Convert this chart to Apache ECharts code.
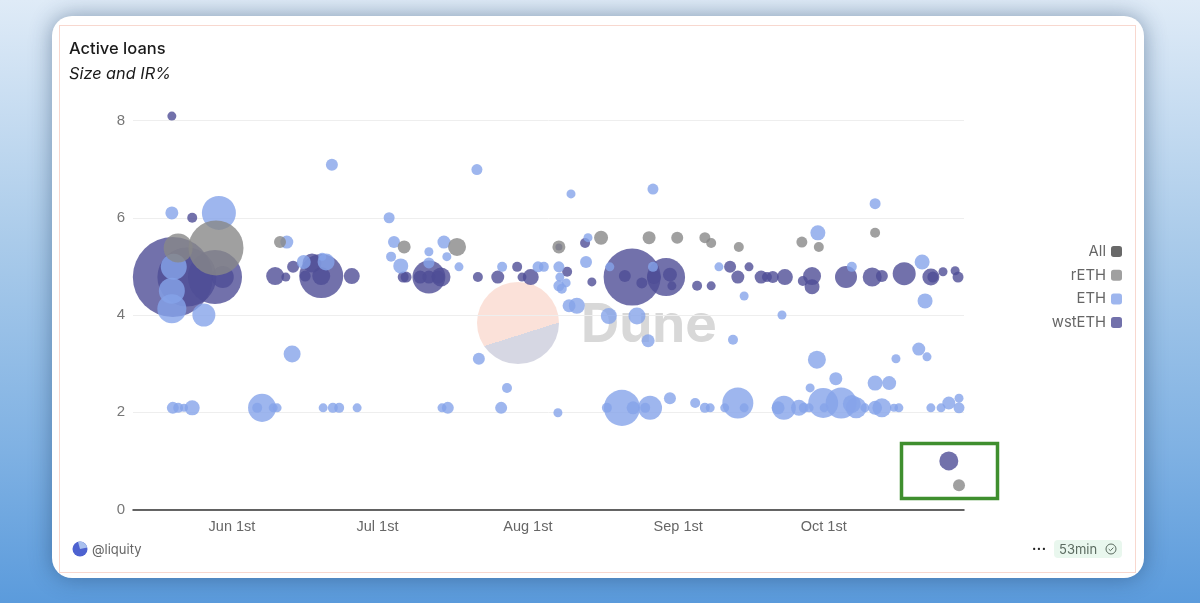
<!DOCTYPE html>
<html>
<head>
<meta charset="utf-8">
<style>
html, body { margin: 0; width: 1200px; height: 603px; overflow: hidden; font-family: Inter, sans-serif; }
body { background: linear-gradient(180deg, #dfebf7 0%, #aacbea 40%, #7fb1e3 75%, #5b9bdc 100%); position: relative; }
#card { position: absolute; left: 52px; top: 16px; width: 1092px; height: 562px; background: #fff; border-radius: 20px; box-shadow: 0 0 22px rgba(25, 55, 95, 0.45); }
#frame { position: absolute; left: 59px; top: 25px; width: 1075px; height: 546px; border: 1px solid #f8d8cf; }
#chart { position: absolute; left: 0; top: 0; width: 1200px; height: 603px; }
.foot { position: absolute; color: #666; font-size: 13px; line-height: 18px; }
#logo { position: absolute; left: 72px; top: 541px; }
#badge { left: 1054px; top: 540px; width: 68px; height: 18px; background: #e9f7ee; border-radius: 4px; padding-left: 5px; box-sizing: border-box; font-size: 13px; color: #5b6b60; }
#badge svg { position: absolute; right: 5px; top: 3px; }
</style>
</head>
<body>
<div id="card"></div>
<div id="frame"></div>
<div id="chart"></div>
<svg id="logo" width="16" height="16" viewBox="0 0 16 16"><circle cx="8" cy="8" r="7.5" fill="#4d62d0"/><path d="M8 8 L6 .8 A7.5 7.5 0 0 1 15.3 6.5 Z" fill="#a9c0ee"/></svg>
<div class="foot" style="left:92px;top:540px;">@liquity</div>
<div class="foot" style="left:1032px;top:539px;color:#222;font-weight:700;letter-spacing:0.5px;">···</div>
<div class="foot" id="badge">53min<svg width="12" height="12" viewBox="0 0 12 12"><circle cx="6" cy="6" r="5" fill="none" stroke="#5b6b60"/><path d="M3.7 6 L5.4 7.7 L8.4 4.6" fill="none" stroke="#5b6b60"/></svg></div>
<script src="https://cdn.jsdelivr.net/npm/echarts@6/dist/echarts.min.js"></script>
<script>
// x values are days counted from Jun 1st, y values are the interest rate in %
// sizes are loan sizes in relative units
const wstDays = [-12.2, -9.3, -3.5, -1.9, -8.2, -12.4, 8.9, 11.1, 12.6, 18.4, 15.1, 18.4, 16.5, 24.7, 35.3, 35.9, 40.6, 38.8, 40.6, 42.5, 43.1, 50.7, 54.8, 58.8, 59.8, 61.6, 69.1, 67.4, 72.8, 74.2, 82.5, 89.5, 81.0, 84.5, 87.0, 90.3, 90.7, 102.7, 106.6, 104.3, 95.9, 98.8, 109.1, 110.3, 111.5, 114, 119.6, 117.7, 119.6, 126.6, 132, 134, 138.6, 144.1, 144.5, 146.6, 149.1, 149.7, 147.8];
const wstRates = [4.78, 4.78, 4.78, 4.78, 6.0, 8.09, 4.8, 4.78, 4.99, 4.8, 4.8, 4.8, 5.07, 4.8, 4.78, 4.78, 4.78, 4.78, 4.78, 4.78, 4.78, 4.78, 4.78, 4.99, 4.78, 4.78, 4.89, 5.4, 5.48, 4.68, 4.78, 4.78, 4.8, 4.66, 4.78, 4.83, 4.6, 4.99, 4.99, 4.78, 4.6, 4.6, 4.78, 4.78, 4.78, 4.78, 4.8, 4.7, 4.58, 4.78, 4.78, 4.8, 4.85, 4.78, 4.78, 4.89, 4.91, 4.78, 1.0];
const wstSizes = [62.4, 33.6, 28.1, 4.41, 0.81, 0.64, 2.89, 0.64, 1.21, 18.5, 1, 2.89, 3.24, 2.25, 1, 1, 10.2, 1.44, 1.44, 1.44, 3.24, 0.81, 1.44, 0.81, 0.64, 2.25, 0.81, 0.36, 0.81, 0.64, 31.4, 13.7, 1.21, 1, 1.69, 1.69, 0.64, 1.21, 0.64, 1.44, 0.81, 0.64, 1.44, 0.81, 1.21, 2.25, 2.89, 0.81, 1.96, 4.41, 3.24, 1.21, 4.84, 2.56, 1, 0.64, 0.64, 1, 3.24];

const rethDays = [-11.1, -3.3, 9.9, 35.5, 46.4, 67.4, 76.1, 86, 91.8, 97.5, 98.8, 104.5, 117.5, 121, 132.6, 149.9];
const rethRates = [5.38, 5.38, 5.5, 5.4, 5.4, 5.4, 5.59, 5.59, 5.59, 5.59, 5.48, 5.4, 5.5, 5.4, 5.69, 0.5];
const rethSizes = [7.84, 29.2, 1.21, 1.44, 2.89, 1.44, 1.69, 1.44, 1.21, 1, 0.81, 0.81, 1, 0.81, 0.81, 1.21];

const ethDays = [-2.7, -12.4, -12, -12.4, -12.4, -5.8, -12.2, -11.1, -9.9, -8.2, 6.2, 5.2, 8.5, 9.3, 18.8, 20.8, 22.1, 25.8, 12.4, 20.6, 11.3, 14.8, 19.4, 18.6, 50.5, 69.9, 86.8, 32.4, 33.4, 32.8, 34.8, 40.6, 40.6, 43.7, 44.3, 46.8, 55.7, 63.1, 64.3, 67.4, 67.6, 68.9, 67.4, 68, 69.5, 71.1, 73.4, 73, 77.9, 86.8, 77.7, 83.5, 85.8, 50.9, 56.7, 55.5, 43.3, 44.5, 67.2, 80.4, 77.3, 82.7, 86.2, 85.2, 90.3, 132.6, 120.8, 100.4, 127.8, 142.3, 142.9, 105.6, 113.4, 103.3, 120.6, 124.5, 119.2, 132.6, 135.5, 136.9, 141.6, 143.3, 95.5, 97.5, 98.6, 101.6, 104.3, 105.6, 113.8, 112.6, 116.9, 117.9, 119, 121.9, 122.1, 125.6, 128.7, 127.8, 130.5, 132.6, 134, 136.5, 137.5, 144.1, 146.2, 147.8, 149.9, 149.9];
const ethRates = [6.1, 6.1, 4.99, 4.5, 4.13, 4.0, 2.09, 2.09, 2.09, 2.09, 2.09, 2.09, 2.09, 2.09, 2.09, 2.09, 2.09, 2.09, 3.2, 7.09, 5.5, 5.09, 5.09, 5.2, 6.99, 6.49, 6.59, 6.0, 5.5, 5.2, 5.01, 5.07, 5.3, 5.5, 5.2, 4.99, 4.99, 4.99, 4.99, 4.99, 4.78, 4.66, 4.6, 4.54, 4.19, 4.19, 5.59, 5.09, 4.99, 4.99, 3.98, 3.98, 3.47, 3.1, 2.5, 2.09, 2.09, 2.09, 1.99, 2.09, 2.09, 2.09, 2.09, 2.09, 2.29, 6.29, 5.69, 4.99, 4.99, 5.09, 4.29, 4.39, 4.0, 3.49, 3.08, 2.69, 2.5, 2.6, 2.6, 3.1, 3.3, 3.14, 2.19, 2.09, 2.09, 2.09, 2.19, 2.09, 2.09, 2.09, 2.09, 2.09, 2.09, 2.19, 2.09, 2.19, 2.09, 2.17, 2.09, 2.09, 2.09, 2.09, 2.09, 2.09, 2.09, 2.19, 2.29, 2.09];
const ethSizes = [10.9, 1.44, 6.25, 6.25, 7.84, 4.84, 1.21, 0.81, 0.49, 1.96, 7.3, 0.81, 0.64, 0.64, 0.64, 0.81, 0.81, 0.64, 2.56, 1.21, 1.44, 1.69, 2.56, 0.49, 1, 0.64, 1, 1, 1.21, 0.81, 1.96, 1, 0.64, 1.44, 0.64, 0.64, 0.81, 1, 0.81, 1, 0.64, 0.64, 1, 0.81, 1.44, 2.25, 0.64, 1.21, 0.64, 0.81, 2.25, 2.56, 1.44, 1.21, 0.81, 1.21, 0.64, 1.21, 0.64, 12.3, 0.81, 1.44, 5.29, 0.81, 1.21, 1, 1.96, 0.64, 0.81, 1.96, 1.96, 0.64, 0.64, 0.81, 2.89, 1.44, 0.64, 1.96, 1.69, 0.64, 1.44, 0.64, 0.81, 0.81, 0.64, 0.64, 9, 0.64, 5.29, 1.44, 2.25, 0.81, 0.64, 8.41, 0.64, 9, 4, 2.89, 0.64, 1.69, 3.24, 0.49, 0.64, 0.64, 0.64, 1.44, 0.64, 1];

const xTickDays = [0, 30, 61, 92, 122];
const xTickLabels = ["Jun 1st", "Jul 1st", "Aug 1st", "Sep 1st", "Oct 1st"];
const legendNames = ["All", "rETH", "ETH", "wstETH"];

function points(days, rates, sizes) {
    return days.map((d, i) => [d, rates[i], sizes[i]]);
}

function bubbles(name, color, data) {
    return {
        name: name,
        type: "scatter",
        clip: false,
        data: data,
        symbolSize: v => 1 + 10 * Math.sqrt(v[2]),
        itemStyle: { color: color, opacity: 0.8 }
    };
}

const chart = echarts.init(document.getElementById("chart"));

chart.setOption({
    animation: false,
    textStyle: { fontFamily: "Inter" },
    title: {
        left: 64,
        top: 36,
        text: "Active loans",
        itemGap: 8,
        textStyle: { fontSize: 16.5, fontWeight: 500, color: "#1a1a1a" },
        subtext: "Size and IR%",
        subtextStyle: { fontSize: 16.3, fontStyle: "italic", color: "#1a1a1a" }
    },
    legend: {
        orient: "vertical",
        right: 73,
        top: 239,
        align: "right",
        itemWidth: 11,
        itemHeight: 11,
        itemGap: 8.7,
        icon: "roundRect",
        data: legendNames,
        textStyle: { fontSize: 14.8, color: "#666" }
    },
    grid: { left: 133, right: 236, top: 120.5, bottom: 93.5 },
    xAxis: {
        type: "value",
        min: -20.41,
        max: 150.93,
        splitLine: { show: false },
        axisTick: { show: false },
        axisLine: { lineStyle: { color: "#333", width: 1.5 } },
        axisLabel: {
            customValues: xTickDays,
            formatter: value => xTickLabels[xTickDays.indexOf(value)],
            color: "#666",
            fontFamily: "Liberation Sans",
            fontSize: 14.5,
            margin: 10
        }
    },
    yAxis: {
        type: "value",
        min: 0,
        max: 8,
        interval: 2,
        axisLine: { show: false },
        axisTick: { show: false },
        splitLine: { lineStyle: { color: "#eeeeee" } },
        axisLabel: { color: "#777", fontFamily: "Liberation Sans", fontSize: 15, margin: 8 }
    },
    graphic: [
        {
            type: "circle",
            z: 0,
            shape: { cx: 518, cy: 323, r: 41 },
            style: {
                fill: new echarts.graphic.LinearGradient(0.35, 0.024, 0.65, 0.976, [
                    { offset: 0, color: "#fbe1d9" },
                    { offset: 0.644, color: "#fbe1d9" },
                    { offset: 0.644, color: "#d6d7e3" },
                    { offset: 1, color: "#d6d7e3" }
                ])
            }
        },
        {
            type: "text",
            z: 0,
            left: 581,
            top: 300,
            style: { text: "Dune", fill: "#d8d8d8", fontSize: 53, fontWeight: 700, fontFamily: "Inter" }
        },
        {
            type: "rect",
            z: 10,
            shape: { x: 901.5, y: 443.5, width: 96, height: 55 },
            style: { fill: "none", stroke: "#3f8f2e", lineWidth: 3.5 }
        }
    ],
    series: [
        bubbles("wstETH", "#4f4e96", points(wstDays, wstRates, wstSizes)),
        bubbles("ETH", "#86a4ea", points(ethDays, ethRates, ethSizes)),
        bubbles("rETH", "#888888", points(rethDays, rethRates, rethSizes)),
        bubbles("All", "#444444", [])
    ]
});
</script>
</body>
</html>
